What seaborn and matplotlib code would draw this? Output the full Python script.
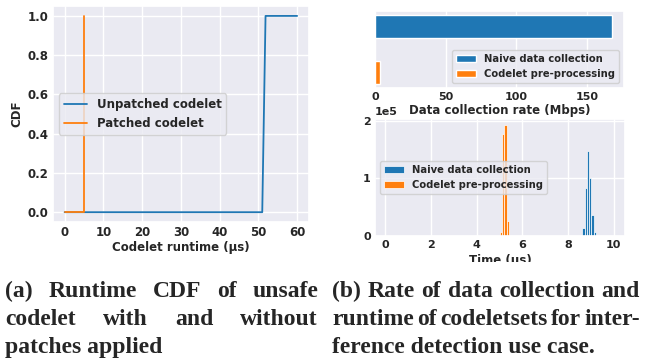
import numpy as np
import matplotlib
matplotlib.use("Agg")
import matplotlib.pyplot as plt
from matplotlib.patches import Rectangle
import seaborn as sns

# (a) runtime CDF of the unsafe codelet
unpatched_runtime = [0.0, 51.0, 51.85, 60.0]
unpatched_cdf = [0.0, 0.0, 1.0, 1.0]
patched_runtime = [0.0, 5.0, 5.0]
patched_cdf = [0.0, 0.0, 1.0]

# (b, top) data collection rate in Mbps
methods = ["Naive data collection", "Codelet pre-processing"]
rates_mbps = [168.0, 3.5]

# (b, bottom) runtime histograms: bin centre (µs) and count
naive_times = [8.68, 8.78, 8.88, 8.98, 9.08, 9.18]
naive_counts = [13000, 83000, 148000, 100000, 36000, 7000]
codelet_times = [5.07, 5.17, 5.27, 5.37]
codelet_counts = [7000, 176000, 193000, 26000]

BLUE = "#1f77b4"
ORANGE = "#ff7f0e"
W, H = 650, 359

sns.set_theme(style="darkgrid")
plt.rcParams["font.family"] = ["DejaVu Sans"]
plt.rcParams["font.weight"] = "bold"
plt.rcParams["axes.labelweight"] = "bold"

fig = plt.figure(figsize=(W / 100, H / 100), dpi=100)

# ---- (a) CDF ----
ax_cdf = fig.add_axes([0.0815, 0.3816, 0.3935, 0.6014])
sns.lineplot(x=unpatched_runtime, y=unpatched_cdf, estimator=None, sort=False,
             color=BLUE, lw=1.3, label="Unpatched codelet", ax=ax_cdf)
sns.lineplot(x=patched_runtime, y=patched_cdf, estimator=None, sort=False,
             color=ORANGE, lw=1.3, label="Patched codelet", ax=ax_cdf)
ax_cdf.set_xticks([0, 10, 20, 30, 40, 50, 60])
ax_cdf.set_yticks([0.0, 0.2, 0.4, 0.6, 0.8, 1.0])
ax_cdf.tick_params(labelsize=8.5, length=0, pad=3)
ax_cdf.set_xlabel("Codelet runtime (µs)", fontsize=8.5, labelpad=1)
ax_cdf.set_ylabel("CDF", fontsize=8.5, labelpad=3)
ax_cdf.legend(loc="center left", fontsize=8.5)

# ---- (b, top) data collection rate ----
ax_rate = fig.add_axes([0.577, 0.755, 0.383, 0.214])
sns.barplot(x=rates_mbps, y=methods, hue=methods, palette=[BLUE, ORANGE],
            orient="h", width=0.5, saturation=1, legend=True, ax=ax_rate)
ax_rate.set_ylim(1.325, -0.325)
ax_rate.set_yticks([])
ax_rate.set_ylabel("")
ax_rate.set_xticks([0, 50, 100, 150])
ax_rate.tick_params(labelsize=8, length=0, pad=3)
ax_rate.set_xlabel("Data collection rate (Mbps)", fontsize=8.5, labelpad=1)
sns.move_legend(ax_rate, "lower right", title=None, fontsize=7.2)

# ---- (b, bottom) runtime histograms ----
ax_hist = fig.add_axes([0.577, 0.3426, 0.3845, 0.326])
for times, counts, colour, name in [(naive_times, naive_counts, BLUE, methods[0]),
                                    (codelet_times, codelet_counts, ORANGE, methods[1])]:
    sns.histplot(x=times, weights=counts, binwidth=0.1,
                 binrange=(min(times) - 0.05, max(times) + 0.05),
                 color=colour, alpha=1, edgecolor="white", linewidth=0.5,
                 label=name, ax=ax_hist)
ax_hist.set_xlim(-0.45, 10.5)
ax_hist.set_xticks([0, 2, 4, 6, 8, 10])
ax_hist.set_yticks([0, 1e5, 2e5])
ax_hist.ticklabel_format(axis="y", style="sci", scilimits=(0, 0))
ax_hist.yaxis.get_offset_text().set_fontsize(8)
ax_hist.yaxis.get_offset_text().set_fontweight("bold")
ax_hist.tick_params(labelsize=8, length=0, pad=3)
ax_hist.set_ylabel("")
ax_hist.set_xlabel("Time (µs)", fontsize=8.5, labelpad=3)
ax_hist.legend(loc="center left", fontsize=7.2)

# white band under the plots holding the captions
fig.patches.append(Rectangle((0, 0), 1, 1 - 262 / H, transform=fig.transFigure,
                             facecolor="white", edgecolor="none", zorder=5))

CAP = dict(fontsize=17, fontweight="bold", family="Liberation Serif",
           va="baseline", ha="left", zorder=6)


def caption_line(text, left, right, base, justify):
    y = 1 - base / H
    if not justify:
        fig.text(left / W, y, text, **CAP)
        return
    renderer = fig.canvas.get_renderer()
    words = text.split()
    items = [fig.text(0, y, w, **CAP) for w in words]
    widths = [t.get_window_extent(renderer).width for t in items]
    gap = (right - left - sum(widths)) / (len(words) - 1)
    x = left
    for t, w in zip(items, widths):
        t.set_x(x / W)
        x += w + gap


caption_line("(a) Runtime CDF of unsafe", 5, 318, 297, True)
caption_line("codelet with and without", 5, 318, 325, True)
caption_line("patches applied", 5, 318, 353, False)
caption_line("(b) Rate of data collection and", 332, 640, 297, True)
caption_line("runtime of codeletsets for inter-", 332, 640, 325, True)
caption_line("ference detection use case.", 332, 640, 353, False)

fig.savefig("out.png", dpi=100)
